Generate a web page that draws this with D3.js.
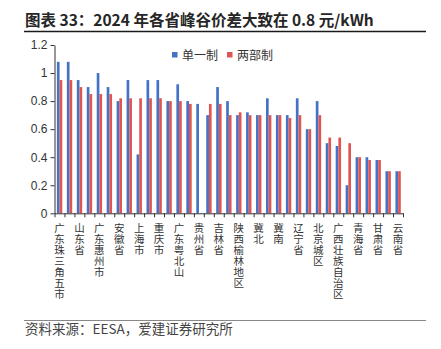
<!DOCTYPE html>
<html>
<head>
<meta charset="utf-8">
<script src="https://cdn.jsdelivr.net/npm/d3@7"></script>
<style>
  body { margin: 0; background: #fff; }
  svg { display: block; font-family: "Liberation Sans", "Noto Sans CJK SC", sans-serif; }
  .cjk { font-family: "Noto Sans CJK SC", sans-serif; }
  .vlab { writing-mode: vertical-rl; text-orientation: upright; letter-spacing: 0.6px; }
</style>
</head>
<body>
<div id="chart"></div>
<script>
// tick labels shown under every second category
const labels = ["广东珠三角五市", "山东省", "广东惠州市", "安徽省", "上海市", "重庆市",
    "广东粤北山", "贵州省", "吉林省", "陕西榆林地区", "冀北", "冀南", "辽宁省",
    "北京城区", "广西壮族自治区", "青海省", "甘肃省", "云南省"];

// 单一制 / 两部制 peak-valley spread, 元/kWh
const single = [1.08, 1.08, 0.95, 0.90, 1.00, 0.90, 0.80, 0.95, 0.42, 0.95, 0.95, 0.80,
    0.92, 0.80, 0.78, 0.70, 0.90, 0.80, 0.70, 0.72, 0.70, 0.82, 0.70, 0.70, 0.82, 0.60,
    0.80, 0.50, 0.48, 0.20, 0.40, 0.40, 0.38, 0.30, 0.30];
const twoPart = [0.95, 0.95, 0.90, 0.85, 0.85, 0.85, 0.82, 0.82, 0.82, 0.82, 0.82, 0.80,
    0.80, 0.78, null, 0.78, 0.78, 0.70, 0.72, 0.70, 0.70, 0.70, 0.70, 0.68, 0.70, 0.60,
    0.70, 0.54, 0.54, 0.50, 0.40, 0.38, 0.38, 0.30, 0.30];

const yTicks = [0, 0.2, 0.4, 0.6, 0.8, 1.0, 1.2];
const seriesNames = ["单一制", "两部制"];
const colors = ["#4472C4", "#E05552"];

const W = 441, H = 349;
const plotL = 54.5, plotR = 403, plotT = 45, plotB = 213.3;

const svg = d3.select("#chart").append("svg")
    .attr("width", W)
    .attr("height", H);

// title + rules
svg.append("text")
    .attr("class", "cjk")
    .attr("x", 25).attr("y", 25.5)
    .attr("font-size", 15.5)
    .attr("font-weight", "bold")
    .attr("fill", "#262626")
    .text("图表 33：2024 年各省峰谷价差大致在 0.8 元/kWh");

svg.append("line")
    .attr("x1", 24).attr("x2", 426)
    .attr("y1", 31.5).attr("y2", 31.5)
    .attr("stroke", "#1a1a1a").attr("stroke-width", 1.3);

svg.append("line")
    .attr("x1", 24).attr("x2", 426)
    .attr("y1", 320.5).attr("y2", 320.5)
    .attr("stroke", "#888").attr("stroke-width", 1);

svg.append("text")
    .attr("class", "cjk")
    .attr("x", 25).attr("y", 334)
    .attr("font-size", 13.5)
    .attr("fill", "#444")
    .text("资料来源：EESA，爱建证券研究所");

// scales
const n = single.length;
const x = d3.scaleBand()
    .domain(d3.range(n))
    .range([plotL, plotR])
    .padding(0);

const xEdge = d3.scaleLinear()
    .domain([0, n])
    .range([plotL, plotR]);

const y = d3.scaleLinear()
    .domain([0, 1.2])
    .range([plotB, plotT]);

const bw = x.bandwidth();
const barW = bw * 0.27;

// bars
[single, twoPart].forEach(function (vals, s) {
    svg.append("g")
        .selectAll("rect")
        .data(vals.map((v, i) => ({ i: i, v: v })).filter(d => d.v != null))
        .enter().append("rect")
        .attr("x", d => x(d.i) + bw * 0.24 + s * barW)
        .attr("y", d => y(d.v))
        .attr("width", barW)
        .attr("height", d => y(0) - y(d.v))
        .attr("fill", colors[s]);
});

// y axis
const yAxis = svg.append("g")
    .attr("transform", "translate(" + plotL + ",0)")
    .call(d3.axisLeft(y)
        .tickValues(yTicks)
        .tickSize(4)
        .tickSizeOuter(0)
        .tickPadding(3)
        .tickFormat(d => String(+d.toFixed(1))));
yAxis.select(".domain").attr("stroke", "#333");
yAxis.selectAll(".tick line").attr("stroke", "#333");
yAxis.selectAll(".tick text")
    .attr("font-size", 12)
    .attr("font-family", "Liberation Sans, sans-serif")
    .attr("fill", "#333");

// x axis: ticks on category edges
const xAxis = svg.append("g")
    .attr("transform", "translate(0," + plotB + ")")
    .call(d3.axisBottom(xEdge)
        .tickValues(d3.range(n + 1))
        .tickSize(4)
        .tickSizeOuter(0)
        .tickFormat(""));
xAxis.select(".domain").attr("stroke", "#333");
xAxis.selectAll(".tick line").attr("stroke", "#333");

// vertical category labels, stacked upright
svg.append("g")
    .selectAll("text")
    .data(labels)
    .enter().append("text")
    .attr("class", "cjk vlab")
    .attr("font-size", 10.5)
    .attr("fill", "#333")
    .attr("x", (d, k) => x(k * 2) + bw / 2)
    .attr("y", plotB + 9)
    .text(d => d);

// legend
const leg = svg.append("g").attr("transform", "translate(172,52)");
seriesNames.forEach(function (name, s) {
    const g = leg.append("g").attr("transform", "translate(" + (s * 55) + ",0)");
    g.append("rect")
        .attr("width", 5.5).attr("height", 5.5)
        .attr("fill", colors[s]);
    g.append("text")
        .attr("class", "cjk")
        .attr("x", 10).attr("y", 7.5)
        .attr("font-size", 12)
        .attr("fill", "#333")
        .text(name);
});
</script>
</body>
</html>
